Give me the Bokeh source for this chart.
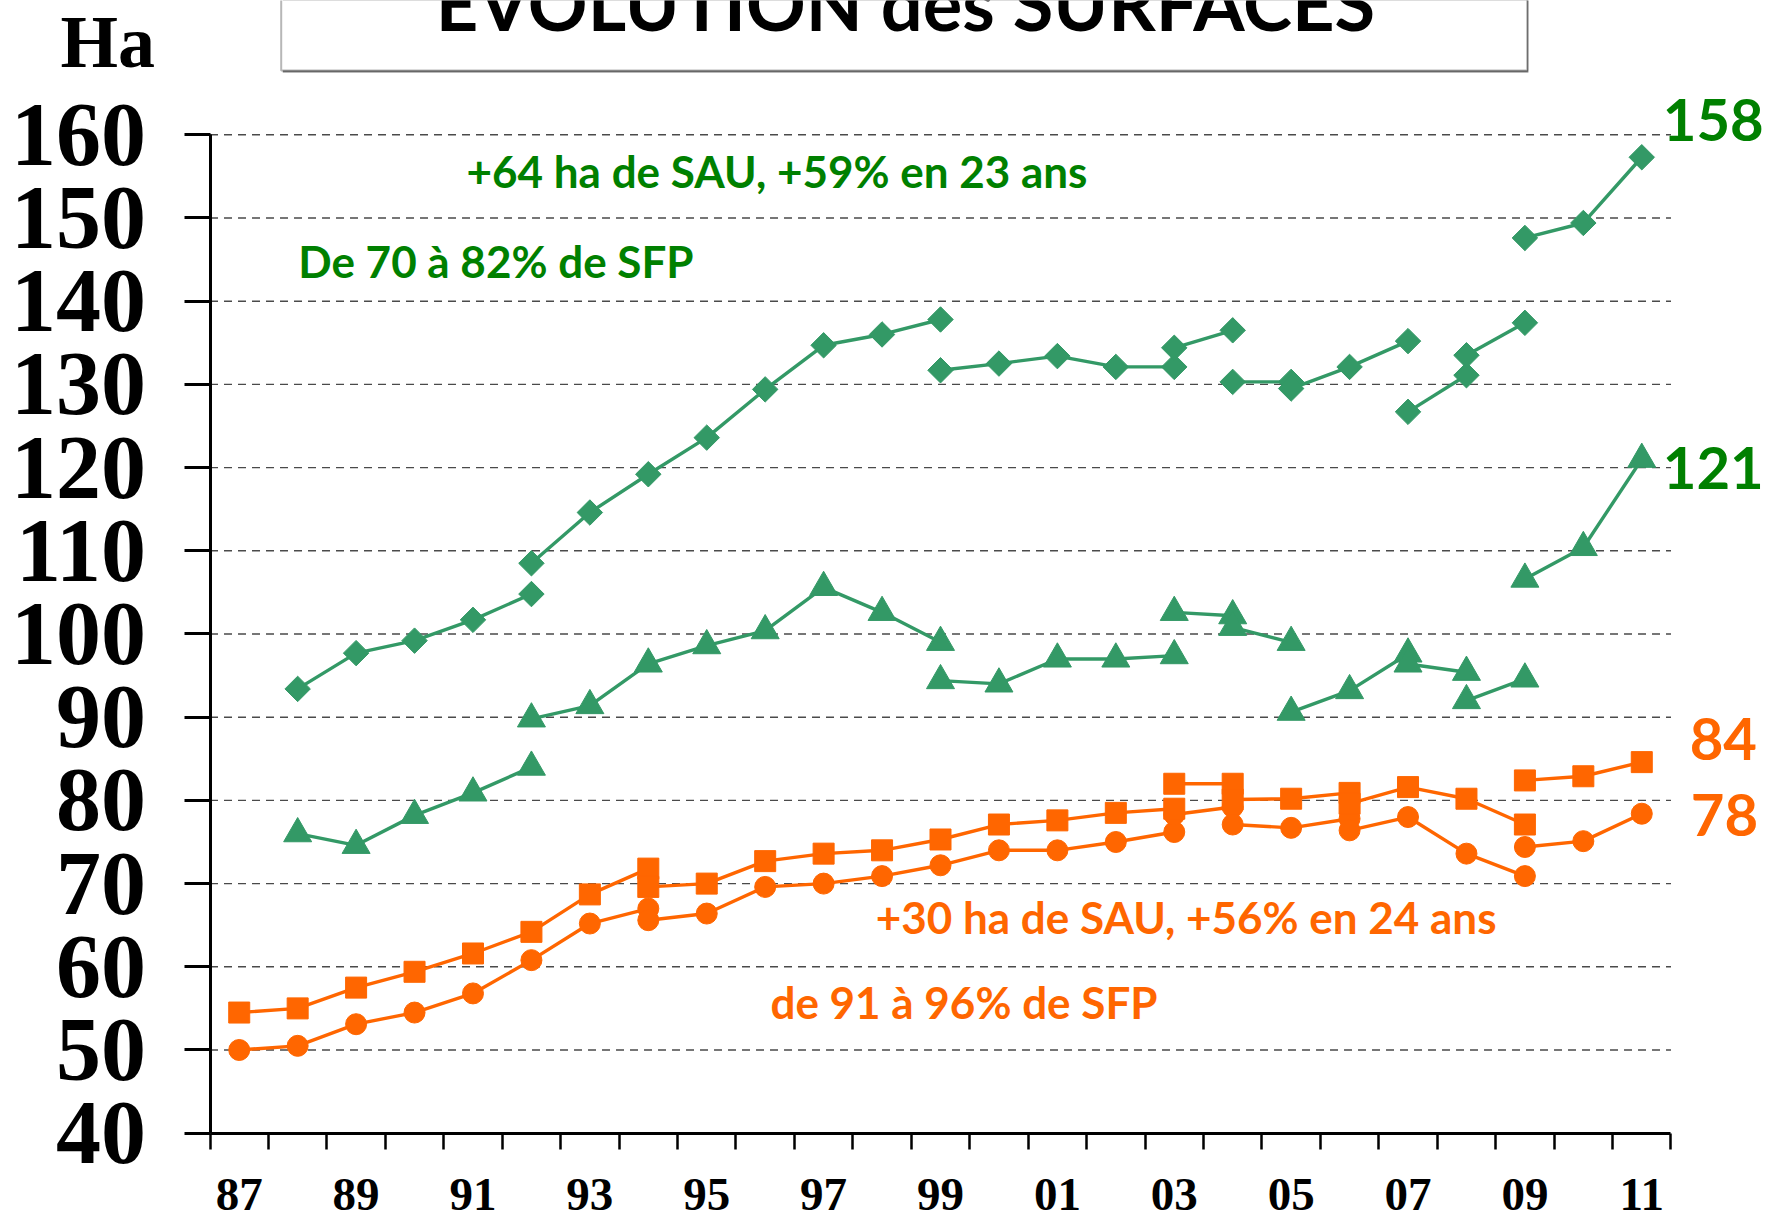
import numpy as np
from bokeh.plotting import figure
from bokeh.models import Range1d, FixedTicker, Label, BoxAnnotation, LinearAxis
from bokeh.embed import file_html
from bokeh.resources import INLINE

# ---------------- data ----------------
FIRST_YEAR = 1987
N_YEARS = 25
x_tick_years = list(range(1987, 2012, 2))
x_tick_labels = ["87", "89", "91", "93", "95", "97", "99", "01", "03", "05", "07", "09", "11"]
y_ticks = list(range(40, 161, 10))

# each segment: (first year, values)
sau_green = [
    (1988, [93.4, 97.7, 99.2, 101.7, 104.8]),
    (1992, [108.5, 114.6, 119.2, 123.6, 129.4, 134.7, 136.0, 137.8]),
    (1999, [131.7, 132.5, 133.4, 132.1, 132.1]),
    (2003, [134.4, 136.5]),
    (2004, [130.3, 130.3]),
    (2005, [129.5, 132.1, 135.2]),
    (2007, [126.7, 131.1]),
    (2008, [133.5, 137.4]),
    (2009, [147.6, 149.4, 157.3]),
]
sfp_green = [
    (1988, [76.0, 74.6, 78.2, 80.9, 84.0]),
    (1992, [89.8, 91.4, 96.4, 98.6, 100.4, 105.6, 102.6, 99.0]),
    (1999, [94.4, 94.0, 97.0, 97.0, 97.4]),
    (2003, [102.6, 102.2]),
    (2004, [100.8, 99.0]),
    (2005, [90.6, 93.2, 97.6]),
    (2007, [96.4, 95.4]),
    (2008, [92.0, 94.6]),
    (2009, [106.6, 110.4, 121.0]),
]
sau_orange = [
    (1987, [54.5, 55.0, 57.5, 59.4, 61.6, 64.2, 68.7, 71.8]),
    (1994, [69.6, 70.0, 72.7, 73.6, 74.0, 75.3, 77.1, 77.6, 78.5, 79.0]),
    (2003, [82.0, 82.0]),
    (2004, [80.1, 80.2, 80.9]),
    (2006, [79.6, 81.6, 80.2, 77.1]),
    (2009, [82.4, 82.9, 84.6]),
]
sfp_orange = [
    (1987, [50.0, 50.5, 53.1, 54.5, 56.8, 60.8, 65.2, 67.0]),
    (1994, [65.6, 66.4, 69.6, 70.0, 70.9, 72.2, 74.0, 74.0, 75.0, 76.2]),
    (2003, [78.3, 79.2]),
    (2004, [77.1, 76.7, 77.8]),
    (2006, [76.4, 78.0, 73.6, 70.9]),
    (2009, [74.4, 75.1, 78.4]),
]
end_values = ["158", "121", "84", "78"]
title_text = "EVOLUTION des SURFACES"
unit_text = "Ha"
notes_green = ["+64 ha de SAU, +59% en 23 ans", "De 70 à 82% de SFP"]
notes_orange = ["+30 ha de SAU, +56% en 24 ans", "de 91 à 96% de SFP"]

GREEN_MARK = "#339966"
GREEN_TEXT = "#008000"
ORANGE = "#FF6600"

# ---------------- figure ----------------
W, H = 1773, 1220
X0, X1 = -0.5, N_YEARS - 0.5          # category boundaries of the axis
p = figure(width=W, height=H, output_backend="svg", toolbar_location=None,
           x_range=Range1d(-4.085, 26.254), y_range=Range1d(29.507, 176.14),
           min_border=0, x_axis_type=None, y_axis_type=None)
p.outline_line_color = None
p.background_fill_color = "white"
p.border_fill_color = "white"
p.xgrid.visible = False
p.ygrid.visible = False

# dashed horizontal grid lines between the axis bounds
p.segment(x0=[X0] * len(y_ticks[1:]), x1=[X1] * len(y_ticks[1:]),
          y0=y_ticks[1:], y1=y_ticks[1:], line_color="#4a4a4a",
          line_width=1.4, line_dash="8 6")

# y axis
ya = LinearAxis(fixed_location=X0, bounds=(40, 160))
ya.ticker = FixedTicker(ticks=y_ticks, minor_ticks=[])
ya.axis_line_width = 3
ya.axis_line_color = "black"
ya.major_tick_out = 26
ya.major_tick_in = 0
ya.major_tick_line_width = 3
ya.minor_tick_line_color = None
ya.major_label_text_font = "Liberation Serif"
ya.major_label_text_font_style = "bold"
ya.major_label_text_font_size = "90px"
ya.major_label_text_color = "black"
ya.major_label_standoff = 38
p.add_layout(ya, "left")

# x axis: tick marks at the year boundaries
xa = LinearAxis(fixed_location=40, bounds=(X0, X1))
xa.ticker = FixedTicker(ticks=[X0 + k for k in range(N_YEARS + 1)], minor_ticks=[])
xa.axis_line_width = 3
xa.axis_line_color = "black"
xa.major_tick_out = 16
xa.major_tick_in = 0
xa.major_tick_line_width = 2.5
xa.minor_tick_line_color = None
xa.major_label_text_color = None
p.add_layout(xa, "below")

# x labels centred on every other year
tick_pos = [yr - FIRST_YEAR for yr in x_tick_years]
xl = LinearAxis(fixed_location=40, bounds=(X0, X1))
xl.ticker = FixedTicker(ticks=tick_pos, minor_ticks=[])
xl.major_label_overrides = {t: lab for t, lab in zip(tick_pos, x_tick_labels)}
xl.axis_line_color = None
xl.major_tick_line_color = None
xl.minor_tick_line_color = None
xl.major_tick_out = 0
xl.major_tick_in = 0
xl.major_label_text_font = "Liberation Serif"
xl.major_label_text_font_style = "bold"
xl.major_label_text_font_size = "47px"
xl.major_label_text_color = "black"
xl.major_label_standoff = 46
p.add_layout(xl, "below")


def draw(segments, marker, color, size, angle=0.0):
    for start, vals in segments:
        xs = [start - FIRST_YEAR + i for i in range(len(vals))]
        p.line(xs, vals, line_color=color, line_width=3.4)
        p.scatter(xs, vals, marker=marker, size=size, angle=angle,
                  fill_color=color, line_color=color, line_width=1)


draw(sfp_green, "triangle", GREEN_MARK, 28)
draw(sau_green, "square", GREEN_MARK, 18, angle=np.pi / 4)
draw(sfp_orange, "circle", ORANGE, 21)
draw(sau_orange, "square", ORANGE, 21)

# unit label
p.add_layout(Label(x=-3.06, y=171.2, text=unit_text, text_align="left",
                   text_baseline="alphabetic", text_font="Liberation Serif",
                   text_font_style="bold", text_font_size="74px", text_color="black"))

# title box + title
p.add_layout(BoxAnnotation(left=0.745, right=22.06, bottom=167.5, top=200,
                           fill_color="#777777", fill_alpha=1.0,
                           line_color=None))
p.add_layout(BoxAnnotation(left=0.718, right=22.04, bottom=167.73, top=200,
                           fill_color="white", fill_alpha=1.0,
                           line_color="#111111", line_width=2))
p.add_layout(Label(x=11.4, y=175.9, text=title_text, text_align="center",
                   text_baseline="alphabetic", text_font="Lato",
                   text_font_style="bold", text_font_size="74px", text_color="black"))

# notes
note_style = dict(text_align="left", text_baseline="alphabetic", text_font="Lato",
                  text_font_style="bold", text_font_size="44px")
p.add_layout(Label(x=3.89, y=155.67, text=notes_green[0], text_color=GREEN_TEXT, **note_style))
p.add_layout(Label(x=1.01, y=144.85, text=notes_green[1], text_color=GREEN_TEXT, **note_style))
p.add_layout(Label(x=10.89, y=66.0, text=notes_orange[0], text_color=ORANGE, **note_style))
p.add_layout(Label(x=9.09, y=55.75, text=notes_orange[1], text_color=ORANGE, **note_style))

# end values
end_style = dict(text_align="left", text_baseline="alphabetic", text_font="Lato",
                 text_font_style="bold", text_font_size="58px")
p.add_layout(Label(x=24.36, y=161.79, text=end_values[0], text_color=GREEN_TEXT, **end_style))
p.add_layout(Label(x=24.36, y=119.9, text=end_values[1], text_color=GREEN_TEXT, **end_style))
p.add_layout(Label(x=24.82, y=87.32, text=end_values[2], text_color=ORANGE, **end_style))
p.add_layout(Label(x=24.84, y=78.3, text=end_values[3], text_color=ORANGE, **end_style))

open("out.html", "w").write(file_html(p, INLINE))
